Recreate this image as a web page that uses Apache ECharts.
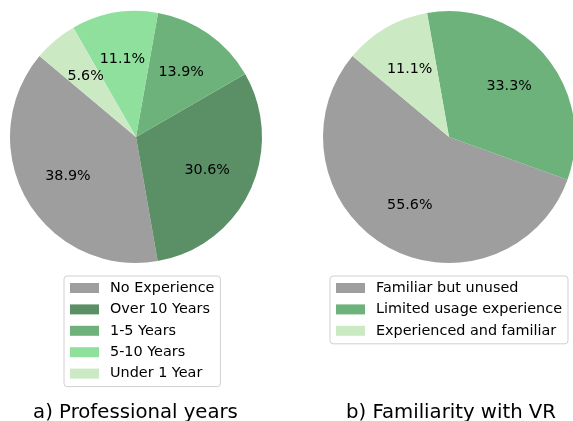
<!DOCTYPE html>
<html><head><meta charset="utf-8">
<script src="https://cdn.jsdelivr.net/npm/echarts@6/dist/echarts.min.js"></script>
<style>html,body{margin:0;padding:0;background:#fff}#c{width:573px;height:421px}</style>
</head><body><div id="c"></div>
<script>
const yearsCategories = ['No Experience', 'Over 10 Years', '1-5 Years', '5-10 Years', 'Under 1 Year'];
const yearsValues = [38.9, 30.6, 13.9, 11.1, 5.6];
const yearsColors = ['#9e9e9e', '#5b9066', '#6db27b', '#8fdf9d', '#cbeac4'];

const vrCategories = ['Familiar but unused', 'Limited usage experience', 'Experienced and familiar'];
const vrValues = [55.6, 33.3, 11.1];
const vrColors = ['#9e9e9e', '#6db27b', '#cbeac4'];

const titles = ['a) Professional years', 'b) Familiarity with VR'];
const FONT = 'DejaVu Sans';

function mk(cats, vals, cols) {
  return cats.map((n, i) => ({ name: n, value: vals[i], itemStyle: { color: cols[i] } }));
}
function pieSeries(cats, vals, cols, center) {
  const R = 126;
  return [{
    type: 'pie', center: center, radius: [0, R], startAngle: 140, clockwise: false,
    data: mk(cats, vals, cols), label: { show: false }, labelLine: { show: false },
    itemStyle: { borderWidth: 0 }, emphasis: { disabled: true }, animation: false, silent: true
  }, {
    type: 'pie', center: center, radius: [0, R * 1.2], startAngle: 140, clockwise: false, z: 5,
    data: cats.map((n, i) => ({ name: n, value: vals[i], itemStyle: { color: 'rgba(0,0,0,0)' } })),
    label: { show: true, position: 'inside', formatter: p => p.value.toFixed(1) + '%',
      fontFamily: FONT, fontSize: 14.3, color: '#000' },
    labelLine: { show: false }, itemStyle: { borderWidth: 0 }, emphasis: { disabled: true },
    animation: false, silent: true, legendHoverLink: false
  }];
}
const legendCommon = {
  orient: 'vertical', icon: 'rect', itemWidth: 29, itemHeight: 10, itemGap: 5.4,
  borderColor: '#d0d0d0', borderWidth: 1, borderRadius: 3, backgroundColor: '#fff',
  selectedMode: false,
  textStyle: { fontFamily: FONT, fontSize: 14.4, color: '#000', lineHeight: 16, padding: [0, 0, 0, 6] }
};
const chart = echarts.init(document.getElementById('c'), null, { renderer: 'canvas' });
chart.setOption({
  animation: false,
  title: [
    { text: titles[0], left: 130.5, top: 398, textAlign: 'center', textStyle: { fontFamily: FONT, fontSize: 19.7, fontWeight: 'normal', color: '#000' } },
    { text: titles[1], left: 446, top: 398, textAlign: 'center', textStyle: { fontFamily: FONT, fontSize: 19.7, fontWeight: 'normal', color: '#000' } }
  ],
  legend: [
    Object.assign({}, legendCommon, { data: yearsCategories, left: 64, top: 276, padding: [4, 6, 5, 6] }),
    Object.assign({}, legendCommon, { data: vrCategories, left: 330, top: 276, padding: [4, 6, 5, 6] })
  ],
  series: [].concat(
    pieSeries(yearsCategories, yearsValues, yearsColors, [136, 137]),
    pieSeries(vrCategories, vrValues, vrColors, [449, 137])
  )
});
</script></body></html>
